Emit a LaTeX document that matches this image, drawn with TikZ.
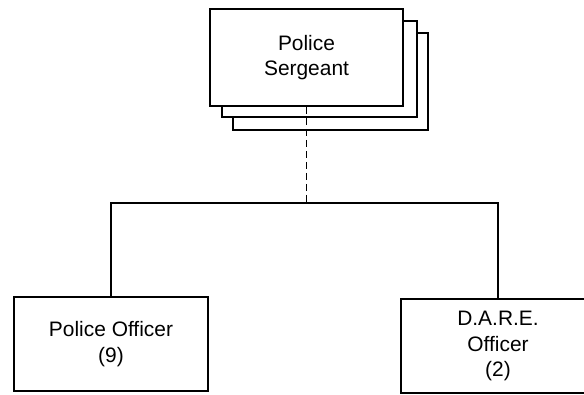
\documentclass[tikz,border=0pt]{standalone}
\usepackage{fontspec}
\setmainfont{Liberation Sans}
\begin{document}
\begin{tikzpicture}[x=1bp,y=-1bp,
  unit/.style={draw=black,line width=1.6bp,fill=white,rectangle,
    minimum width=194bp,minimum height=96bp,inner sep=0pt,align=center,
    font=\fontsize{21}{25.5}\selectfont},
  shadowbox/.style={draw=black,line width=1.6bp,fill=white},
  link/.style={draw=black,line width=1.3bp},
  dotted link/.style={link,line width=1.6bp,dash pattern=on 7bp off 4bp}]
\clip (0,0) rectangle (584,394);
\fill[white] (0,0) rectangle (584,394);

% stacked copies behind the sergeant box
\draw[shadowbox] (233,33) rectangle (428,130);
\draw[shadowbox] (222,21) rectangle (417,117);
\node[unit,minimum width=193bp,minimum height=97bp] (sgt) at (306.5,57.5) {Police\\Sergeant};

% subordinate units
\node[unit,minimum height=94bp] (po) at (111,344) {Police Officer\\(9)};
\node[unit,minimum height=94bp] (dare) at (498,346) {D.A.R.E.\\Officer\\(2)};

% reporting lines
\coordinate (split) at (306.5,203);
\draw[dotted link] (sgt.south) -- (split);
\draw[link] (po.north) |- (split) -| (dare.north);
\end{tikzpicture}
\end{document}
